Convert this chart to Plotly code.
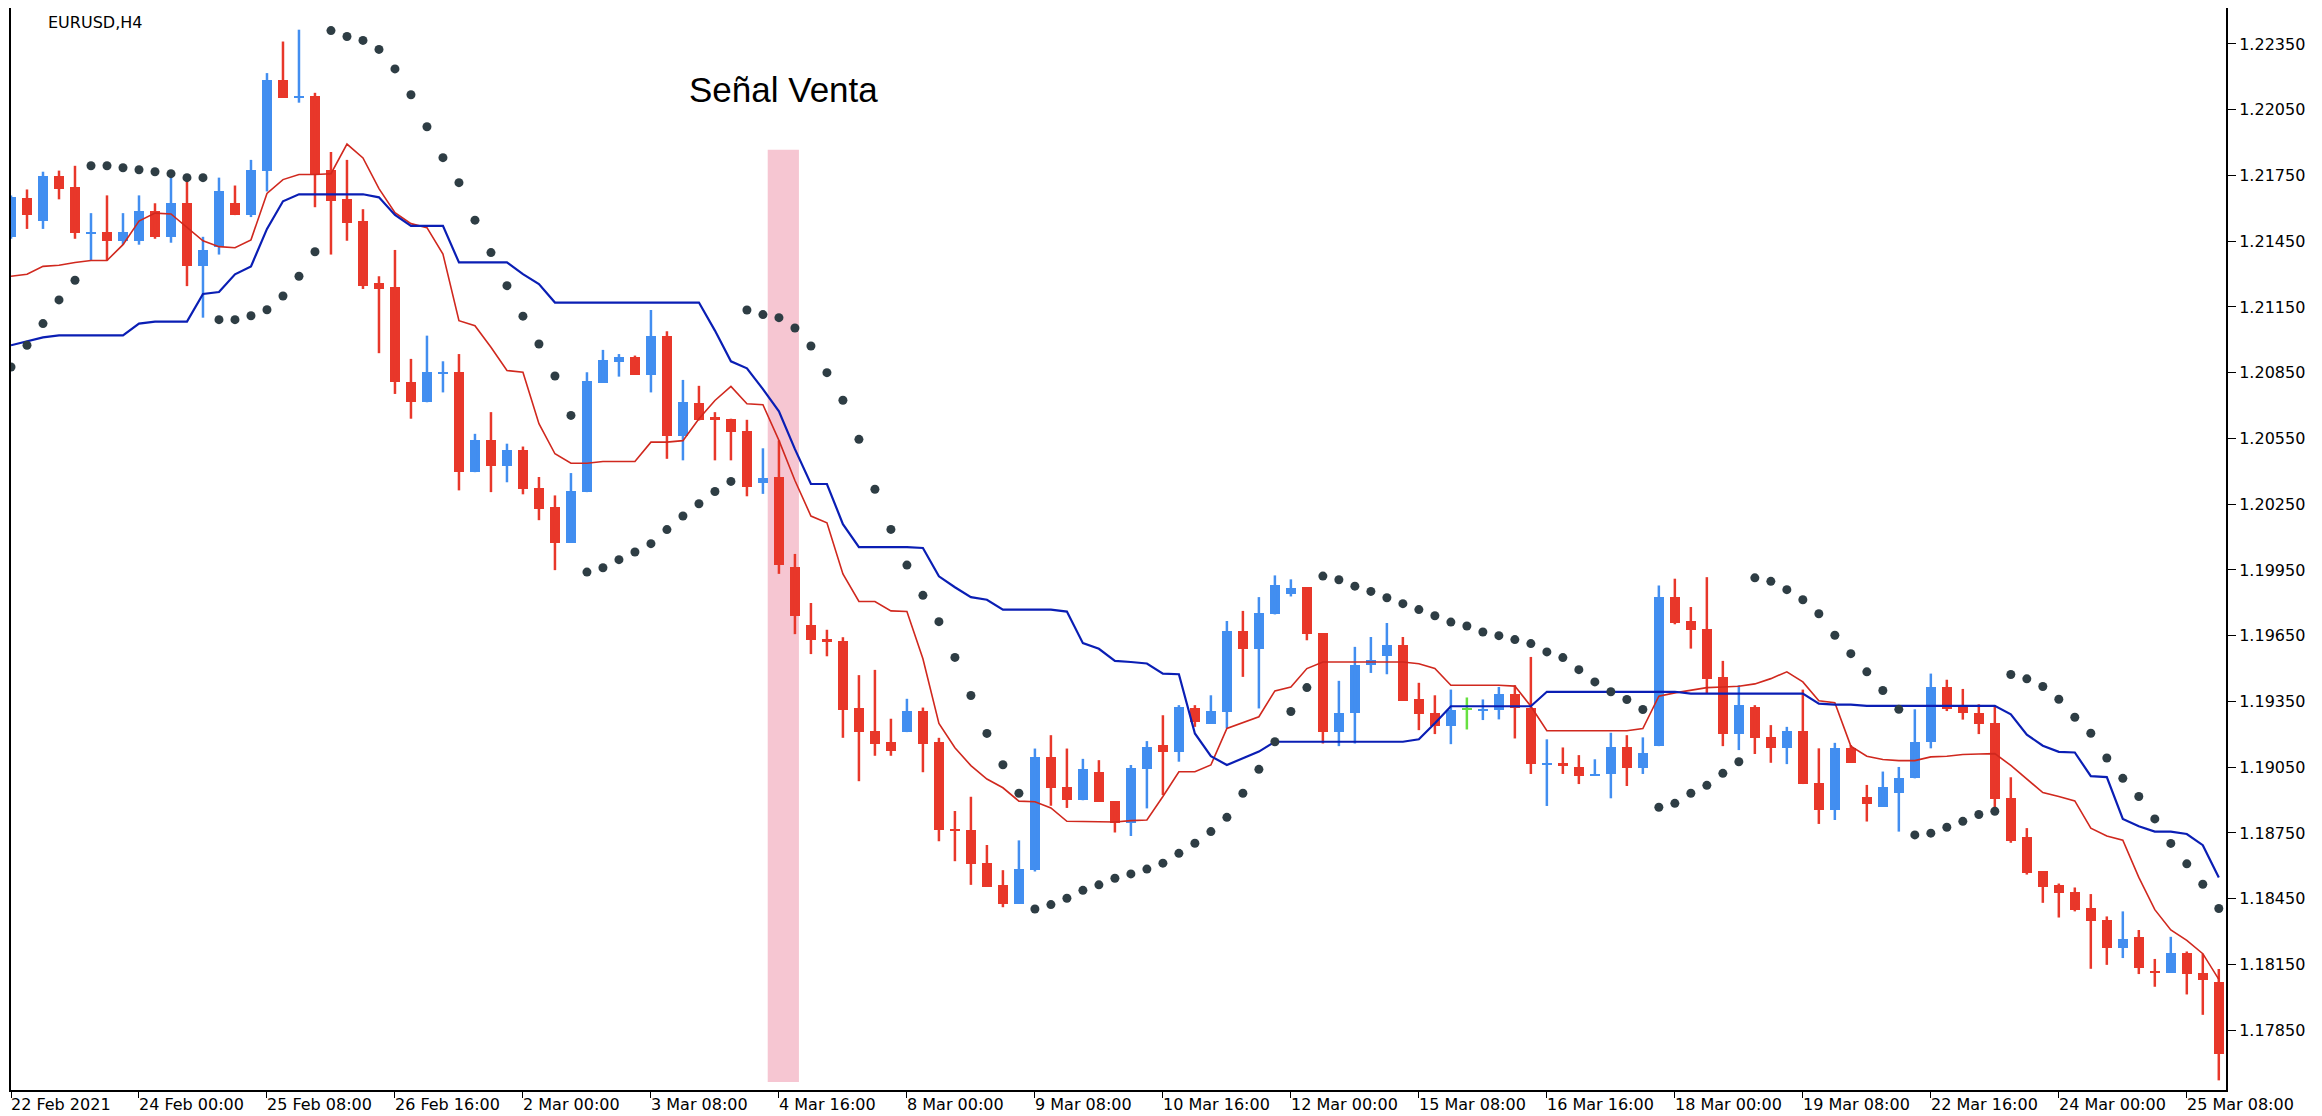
import plotly.graph_objects as go

opens = [1.21470,1.21645,1.21542,1.21749,1.21695,1.21484,1.21492,1.21452,1.21452,1.21587,
1.21470,1.21623,1.21335,1.21425,1.21623,1.21569,1.21772,1.22186,1.22104,1.22114,
1.21776,1.21641,1.21542,1.21258,1.21239,1.20806,1.20715,1.20844,1.20852,1.20396,
1.20544,1.20422,1.20498,1.20325,1.20237,1.20075,1.20305,1.20803,1.20897,1.20920,
1.20841,1.21019,1.20559,1.20711,1.20647,1.20640,1.20583,1.20348,1.20373,1.19962,
1.19698,1.19637,1.19627,1.19318,1.19216,1.19163,1.19210,1.19305,1.19163,1.18769,
1.18763,1.18614,1.18513,1.18427,1.18580,1.19098,1.18960,1.18899,1.19027,1.18895,
1.18794,1.19040,1.19151,1.19121,1.19318,1.19249,1.19303,1.19671,1.19591,1.19747,
1.19838,1.19872,1.19662,1.19212,1.19295,1.19515,1.19556,1.19606,1.19359,1.19298,
1.19237,1.19313,1.19310,1.19313,1.19386,1.19322,1.19064,1.19067,1.19052,1.19010,
1.19019,1.19143,1.19045,1.19146,1.19826,1.19717,1.19682,1.19462,1.19201,1.19325,
1.19186,1.19136,1.19216,1.18979,1.18855,1.19136,1.18916,1.18870,1.18934,1.18999,
1.19167,1.19418,1.19334,1.19298,1.19252,1.18911,1.18730,1.18575,1.18513,1.18482,
1.18408,1.18354,1.18225,1.18276,1.18121,1.18113,1.18203,1.18110,1.18070]
highs = [1.21659,1.21686,1.21767,1.21772,1.21794,1.21578,1.21659,1.21578,1.21659,1.21623,
1.21758,1.21731,1.21470,1.21740,1.21704,1.21821,1.22217,1.22361,1.22415,1.22127,
1.21857,1.21821,1.21596,1.21290,1.21410,1.20913,1.21019,1.20902,1.20935,1.20571,
1.20670,1.20526,1.20513,1.20374,1.20290,1.20392,1.20852,1.20954,1.20935,1.20928,
1.21136,1.21039,1.20817,1.20790,1.20670,1.20640,1.20635,1.20505,1.20541,1.20023,
1.19799,1.19677,1.19643,1.19470,1.19494,1.19271,1.19362,1.19322,1.19184,1.18850,
1.18915,1.18695,1.18580,1.18716,1.19135,1.19196,1.19135,1.19088,1.19082,1.18895,
1.19060,1.19169,1.19287,1.19333,1.19333,1.19378,1.19717,1.19763,1.19826,1.19925,
1.19907,1.19872,1.19662,1.19444,1.19599,1.19644,1.19708,1.19644,1.19435,1.19378,
1.19404,1.19368,1.19359,1.19416,1.19424,1.19553,1.19177,1.19140,1.19105,1.19086,
1.19207,1.19196,1.19186,1.19879,1.19910,1.19781,1.19917,1.19535,1.19424,1.19333,
1.19242,1.19234,1.19404,1.19136,1.19161,1.19151,1.18969,1.19030,1.19051,1.19314,
1.19477,1.19449,1.19407,1.19337,1.19325,1.19004,1.18772,1.18575,1.18519,1.18501,
1.18471,1.18369,1.18392,1.18307,1.18175,1.18276,1.18209,1.18199,1.18129]
lows = [1.21461,1.21506,1.21506,1.21641,1.21461,1.21362,1.21362,1.21434,1.21434,1.21461,
1.21443,1.21245,1.21101,1.21389,1.21569,1.21560,1.21677,1.22104,1.22082,1.21605,
1.21389,1.21452,1.21232,1.20939,1.20753,1.20640,1.20715,1.20760,1.20313,1.20396,
1.20305,1.20350,1.20295,1.20177,1.19949,1.20075,1.20305,1.20803,1.20832,1.20841,
1.20760,1.20457,1.20450,1.20632,1.20450,1.20450,1.20286,1.20297,1.19932,1.19657,
1.19566,1.19556,1.19184,1.18986,1.19102,1.19102,1.19210,1.19027,1.18712,1.18621,
1.18513,1.18505,1.18411,1.18427,1.18574,1.18874,1.18864,1.18899,1.18891,1.18752,
1.18736,1.18862,1.18923,1.19075,1.19234,1.19249,1.19227,1.19462,1.19318,1.19747,
1.19829,1.19629,1.19158,1.19146,1.19158,1.19480,1.19474,1.19353,1.19219,1.19201,
1.19155,1.19222,1.19265,1.19268,1.19181,1.19019,1.18873,1.19019,1.18973,1.19010,
1.18908,1.18964,1.19019,1.19146,1.19702,1.19591,1.19386,1.19146,1.19128,1.19110,
1.19070,1.19064,1.18973,1.18791,1.18809,1.19070,1.18802,1.18870,1.18756,1.18999,
1.19136,1.19306,1.19267,1.19201,1.18857,1.18705,1.18560,1.18431,1.18364,1.18392,
1.18130,1.18148,1.18179,1.18106,1.18048,1.18113,1.18013,1.17920,1.17621]
closes = [1.21650,1.21569,1.21749,1.21690,1.21488,1.21492,1.21452,1.21492,1.21587,1.21470,
1.21623,1.21335,1.21412,1.21677,1.21569,1.21776,1.22186,1.22104,1.22109,1.21758,
1.21632,1.21533,1.21245,1.21232,1.20806,1.20715,1.20852,1.20852,1.20396,1.20544,
1.20422,1.20498,1.20320,1.20230,1.20075,1.20308,1.20810,1.20910,1.20920,1.20841,
1.21019,1.20559,1.20718,1.20632,1.20635,1.20579,1.20328,1.20369,1.19972,1.19739,
1.19631,1.19623,1.19312,1.19210,1.19155,1.19125,1.19305,1.19155,1.18763,1.18757,
1.18610,1.18505,1.18427,1.18586,1.19098,1.18956,1.18899,1.19041,1.18891,1.18797,
1.19045,1.19143,1.19121,1.19325,1.19257,1.19307,1.19671,1.19591,1.19753,1.19879,
1.19869,1.19656,1.19212,1.19298,1.19515,1.19538,1.19606,1.19353,1.19292,1.19237,
1.19313,1.19313,1.19316,1.19386,1.19318,1.19064,1.19070,1.19055,1.19010,1.19019,
1.19143,1.19045,1.19116,1.19826,1.19708,1.19675,1.19454,1.19201,1.19333,1.19181,
1.19136,1.19216,1.18973,1.18855,1.19136,1.19070,1.18882,1.18960,1.18999,1.19167,
1.19418,1.19314,1.19298,1.19247,1.18903,1.18714,1.18566,1.18504,1.18477,1.18400,
1.18346,1.18225,1.18268,1.18132,1.18113,1.18203,1.18106,1.18079,1.17742]

sar = [1.20876,1.20975,1.21074,1.21182,1.21272,1.21794,1.21794,1.21785,1.21776,1.21767,
1.21758,1.21740,1.21740,1.21092,1.21092,1.21110,1.21137,1.21200,1.21290,1.21402,
1.22411,1.22384,1.22366,1.22325,1.22236,1.22118,1.21972,1.21831,1.21717,1.21546,
1.21398,1.21247,1.21108,1.20981,1.20835,1.20655,1.19940,1.19960,1.19997,1.20032,
1.20070,1.20134,1.20196,1.20252,1.20308,1.20354,1.21136,1.21115,1.21101,1.21054,
1.20972,1.20850,1.20724,1.20546,1.20318,1.20135,1.19972,1.19834,1.19714,1.19551,
1.19377,1.19204,1.19061,1.18931,1.18403,1.18423,1.18452,1.18488,1.18513,1.18543,
1.18563,1.18585,1.18612,1.18657,1.18703,1.18756,1.18821,1.18931,1.19040,1.19166,
1.19304,1.19413,1.19922,1.19905,1.19876,1.19852,1.19823,1.19796,1.19769,1.19741,
1.19712,1.19694,1.19667,1.19650,1.19632,1.19614,1.19576,1.19550,1.19495,1.19439,
1.19394,1.19359,1.19313,1.18867,1.18885,1.18931,1.18967,1.19022,1.19075,1.19914,
1.19898,1.19860,1.19814,1.19750,1.19652,1.19568,1.19485,1.19400,1.19314,1.18741,
1.18749,1.18776,1.18803,1.18834,1.18849,1.19473,1.19453,1.19418,1.19360,1.19278,
1.19205,1.19092,1.18999,1.18916,1.18814,1.18702,1.18609,1.18516,1.18405]

red_line = [1.21290,1.21299,1.21335,1.21340,1.21353,1.21362,1.21362,1.21434,1.21542,1.21578,
1.21574,1.21515,1.21452,1.21425,1.21420,1.21456,1.21668,1.21731,1.21754,1.21754,
1.21758,1.21893,1.21830,1.21690,1.21580,1.21530,1.21512,1.21391,1.21087,1.21064,
1.20966,1.20860,1.20852,1.20617,1.20480,1.20437,1.20437,1.20445,1.20445,1.20445,
1.20533,1.20533,1.20540,1.20640,1.20723,1.20787,1.20708,1.20704,1.20541,1.20358,
1.20196,1.20165,1.19932,1.19806,1.19806,1.19763,1.19760,1.19545,1.19250,1.19139,
1.19057,1.18996,1.18956,1.18895,1.18892,1.18864,1.18803,1.18803,1.18803,1.18800,
1.18806,1.18809,1.18916,1.19029,1.19029,1.19060,1.19227,1.19252,1.19280,1.19398,
1.19416,1.19500,1.19530,1.19530,1.19530,1.19530,1.19530,1.19530,1.19522,1.19500,
1.19424,1.19424,1.19424,1.19424,1.19420,1.19328,1.19216,1.19216,1.19216,1.19216,
1.19216,1.19216,1.19226,1.19374,1.19389,1.19401,1.19413,1.19416,1.19419,1.19430,
1.19454,1.19485,1.19439,1.19353,1.19344,1.19146,1.19100,1.19085,1.19080,1.19080,
1.19097,1.19100,1.19108,1.19110,1.19112,1.19058,1.18996,1.18934,1.18916,1.18896,
1.18772,1.18736,1.18717,1.18547,1.18400,1.18307,1.18260,1.18199,1.18082]

blue_line = [1.20975,1.20993,1.21011,1.21020,1.21020,1.21020,1.21020,1.21020,1.21074,1.21083,
1.21083,1.21083,1.21209,1.21218,1.21299,1.21335,1.21506,1.21632,1.21664,1.21664,
1.21664,1.21664,1.21664,1.21650,1.21570,1.21520,1.21520,1.21520,1.21353,1.21353,
1.21353,1.21353,1.21300,1.21254,1.21170,1.21170,1.21170,1.21170,1.21170,1.21170,
1.21170,1.21170,1.21170,1.21170,1.21042,1.20902,1.20870,1.20775,1.20674,1.20501,
1.20342,1.20342,1.20159,1.20054,1.20054,1.20054,1.20054,1.20050,1.19921,1.19871,
1.19826,1.19814,1.19769,1.19769,1.19769,1.19769,1.19760,1.19616,1.19590,1.19535,
1.19530,1.19523,1.19477,1.19474,1.19204,1.19100,1.19060,1.19090,1.19121,1.19166,
1.19166,1.19166,1.19166,1.19166,1.19166,1.19166,1.19166,1.19166,1.19177,1.19250,
1.19328,1.19328,1.19328,1.19328,1.19328,1.19328,1.19394,1.19394,1.19394,1.19394,
1.19394,1.19394,1.19394,1.19394,1.19394,1.19386,1.19386,1.19386,1.19386,1.19386,
1.19386,1.19386,1.19386,1.19340,1.19335,1.19335,1.19330,1.19330,1.19330,1.19330,
1.19330,1.19330,1.19330,1.19330,1.19330,1.19291,1.19198,1.19148,1.19120,1.19117,
1.19009,1.19005,1.18814,1.18780,1.18756,1.18756,1.18745,1.18694,1.18547]

green_doji = [91]
tick_pos = [0, 8, 16, 24, 32, 40, 48, 56, 64, 72, 80, 88, 96, 104, 112, 120, 128, 136]
tick_labels = ["22 Feb 2021", "24 Feb 00:00", "25 Feb 08:00", "26 Feb 16:00", "2 Mar 00:00",
               "3 Mar 08:00", "4 Mar 16:00", "8 Mar 00:00", "9 Mar 08:00", "10 Mar 16:00",
               "12 Mar 00:00", "15 Mar 08:00", "16 Mar 16:00", "18 Mar 00:00", "19 Mar 08:00",
               "22 Mar 16:00", "24 Mar 00:00", "25 Mar 08:00"]
y_ticks = [1.17850, 1.18150, 1.18450, 1.18750, 1.19050, 1.19350, 1.19650, 1.19950,
           1.20250, 1.20550, 1.20850, 1.21150, 1.21450, 1.21750, 1.22050, 1.22350]
signal_start, signal_end = 47.3, 49.25
signal_text = "Señal Venta"

RED = "#E8372A"
BLUE = "#428EF0"
GREEN = "#66E040"
n = len(opens)
idx = list(range(n))

def color(i):
    if i in green_doji:
        return GREEN
    return BLUE if closes[i] >= opens[i] else RED

fig = go.Figure()

fig.add_shape(type="rect", x0=signal_start, x1=signal_end, y0=1.17613, y1=1.21867,
              fillcolor="rgba(240,160,180,0.6)", line_width=0, layer="below")

for col in [RED, BLUE, GREEN]:
    xs, ys = [], []
    for i in idx:
        if color(i) == col:
            xs += [i, i, None]
            ys += [lows[i], highs[i], None]
    fig.add_trace(go.Scatter(x=xs, y=ys, mode="lines", line=dict(color=col, width=2.5),
                             hoverinfo="skip", showlegend=False))

base = [min(opens[i], closes[i]) for i in idx]
height = [max(abs(closes[i] - opens[i]), 0.00005) for i in idx]
fig.add_trace(go.Bar(x=idx, y=height, base=base, width=0.62,
                     marker=dict(color=[color(i) for i in idx], line_width=0),
                     showlegend=False))

fig.add_trace(go.Scatter(x=idx, y=red_line, mode="lines", line=dict(color="#D0281E", width=1.6),
                         showlegend=False))
fig.add_trace(go.Scatter(x=idx, y=blue_line, mode="lines", line=dict(color="#0A1EB4", width=2.2),
                         showlegend=False))
fig.add_trace(go.Scatter(x=idx, y=sar, mode="markers",
                         marker=dict(color="#2E3D44", size=9), showlegend=False))

for p, t in zip(tick_pos, tick_labels):
    fig.add_annotation(x=p, y=0, xref="x", yref="paper", text=t, showarrow=False,
                       xanchor="left", yanchor="top", yshift=-3, xshift=-2,
                       font=dict(family="DejaVu Sans", size=16, color="black"))

fig.add_annotation(x=(signal_start + signal_end) / 2, y=1.22141, text=signal_text, showarrow=False,
                   font=dict(family="Liberation Sans", size=35, color="#000000"))
fig.add_annotation(x=0.016, y=0.997, xref="paper", yref="paper", text="EURUSD,H4", showarrow=False,
                   xanchor="left", yanchor="top", font=dict(family="DejaVu Sans", size=16, color="black"))

fig.update_layout(
    width=2322, height=1116, margin=dict(l=3, r=104, t=0, b=34),
    plot_bgcolor="white", paper_bgcolor="white", bargap=0,
)
fig.update_xaxes(range=[0.0, 138.45], showgrid=False, zeroline=False, showline=True,
                 linecolor="black", linewidth=2, tickmode="array", tickvals=tick_pos,
                 ticks="outside", ticklen=6, tickcolor="black", showticklabels=False)
fig.update_yaxes(range=[1.17577, 1.22514], side="right", showgrid=False, zeroline=False,
                 showline=True, mirror=True, linecolor="black", linewidth=2,
                 tickmode="array", tickvals=y_ticks, ticktext=[f"{v:.5f}" for v in y_ticks],
                 ticks="outside", ticklen=8, tickcolor="black",
                 tickfont=dict(family="DejaVu Sans", size=16, color="black"))

fig.write_html("out.html")
